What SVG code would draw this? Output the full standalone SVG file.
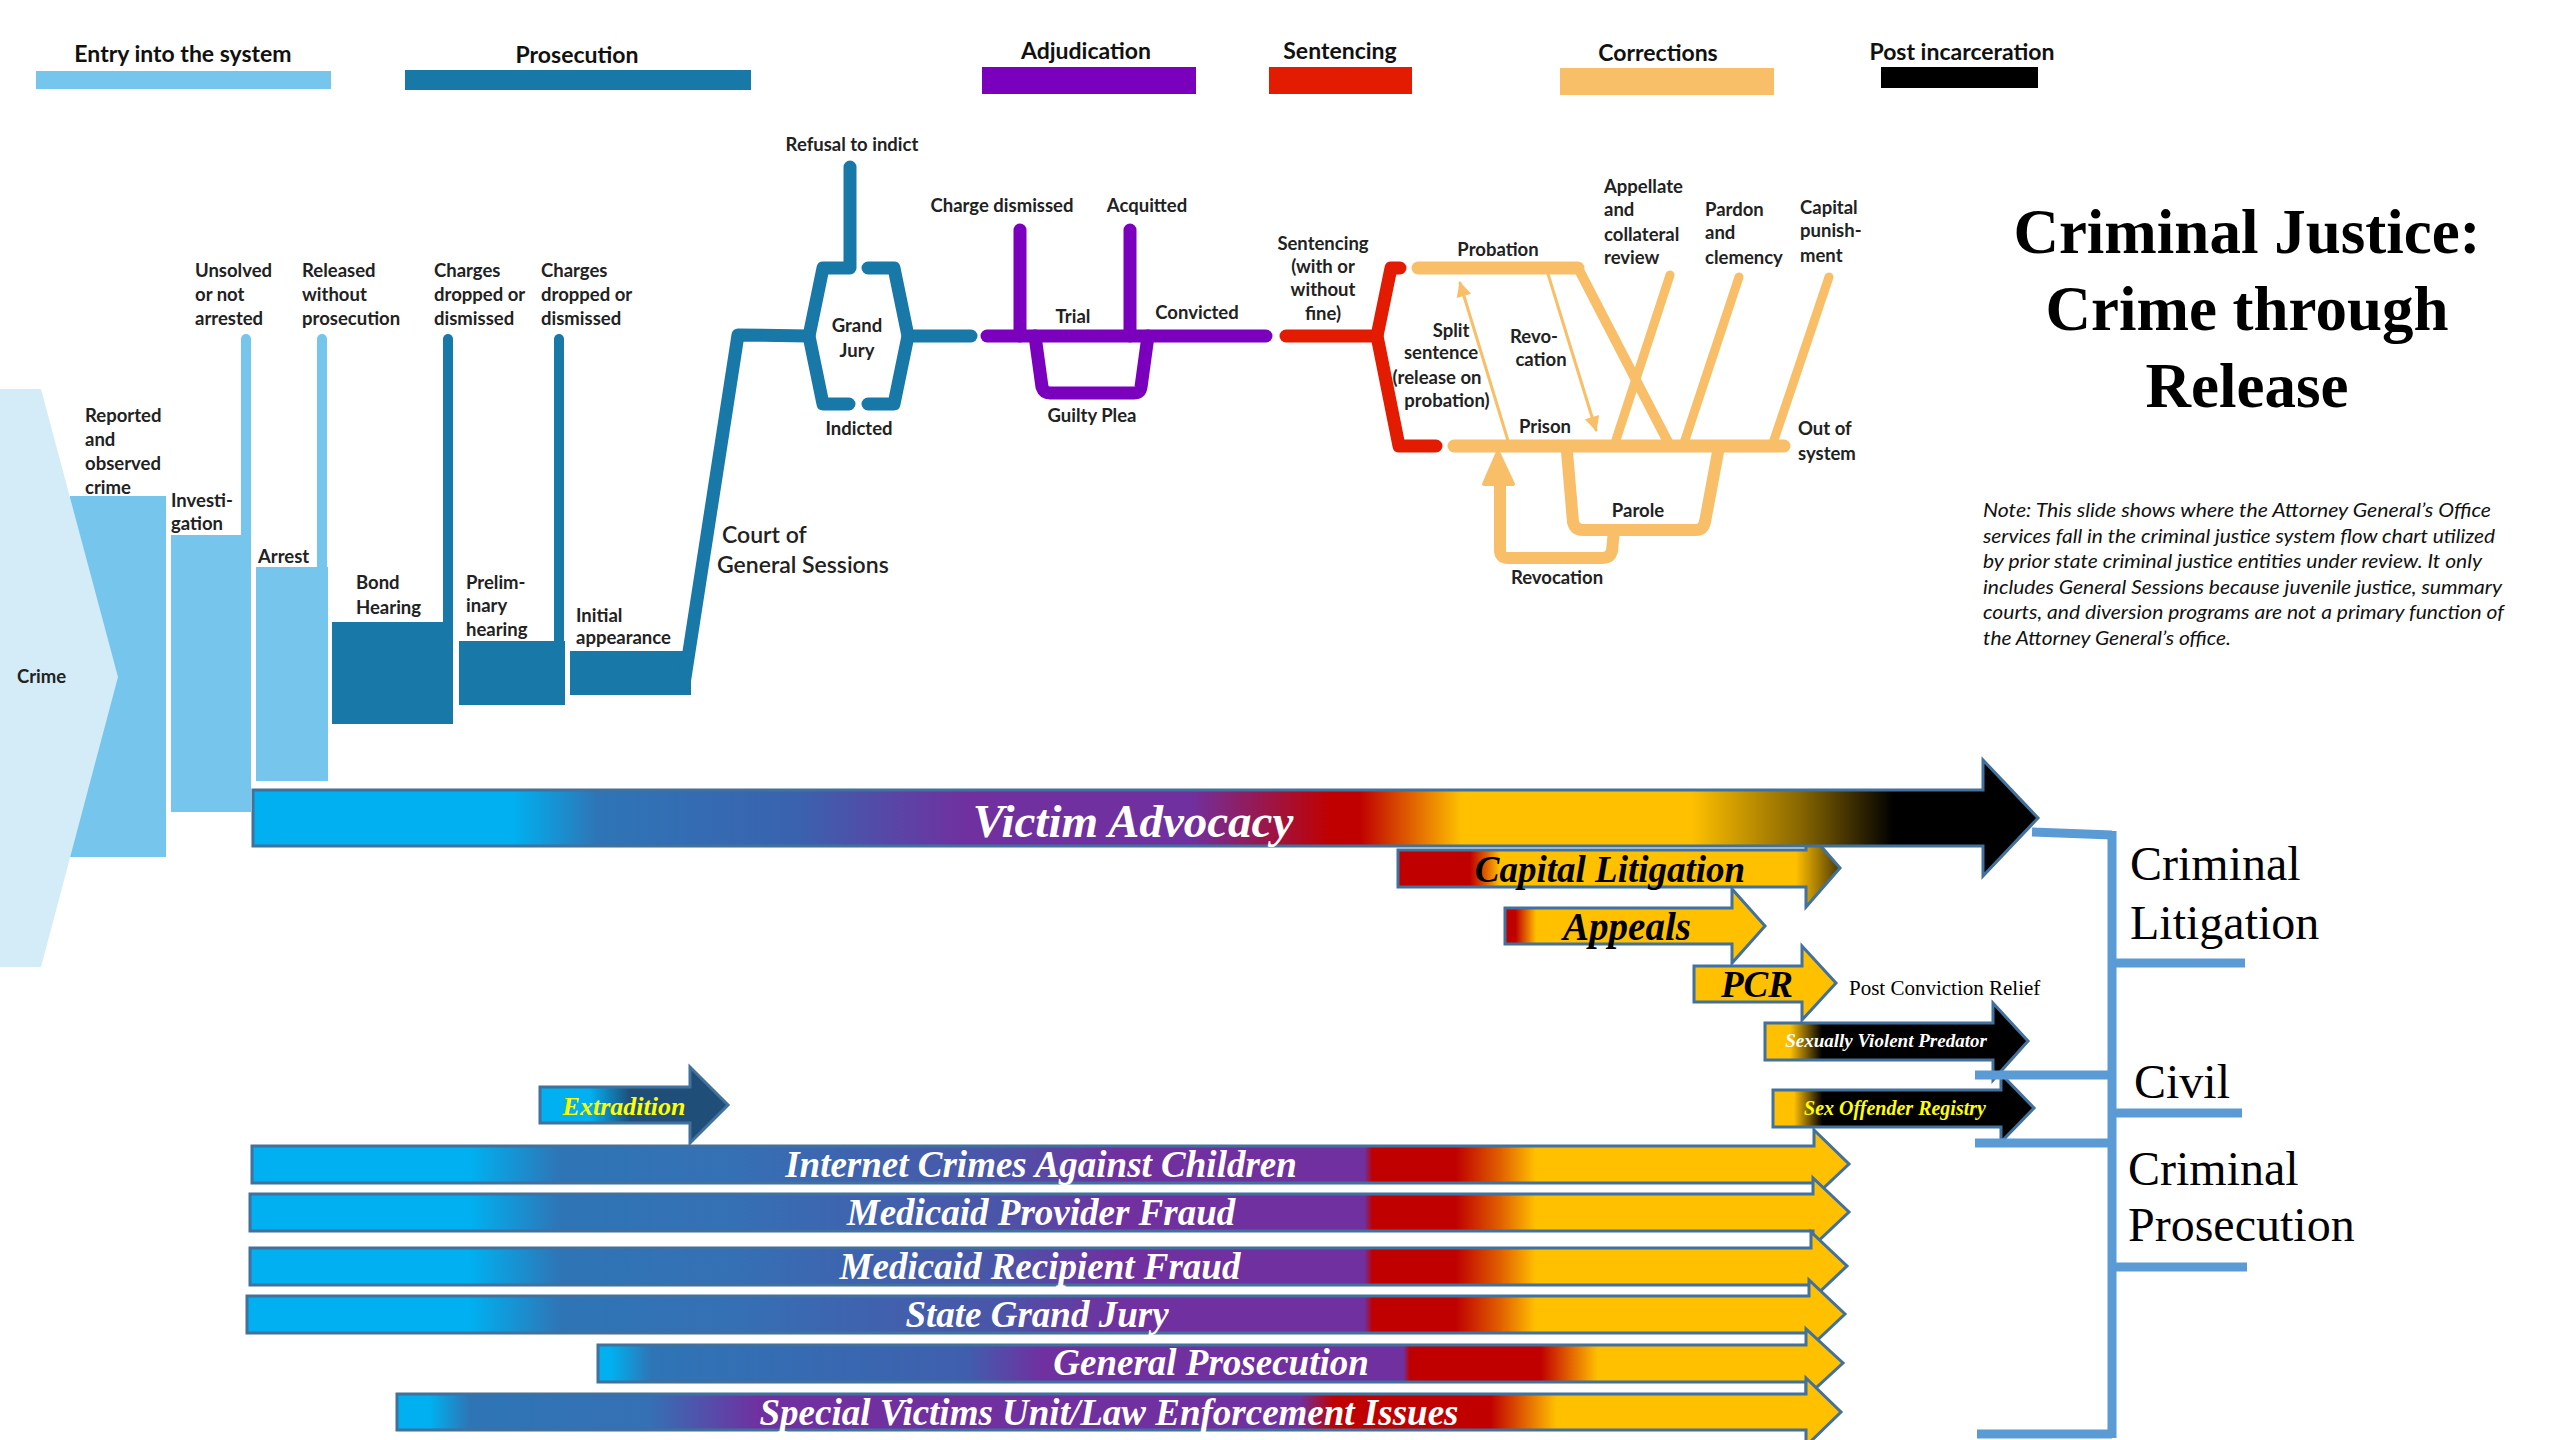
<svg xmlns="http://www.w3.org/2000/svg" width="2560" height="1440" viewBox="0 0 2560 1440">
<defs>
<style>
.lbl{font-family:Lato,"Open Sans","Liberation Sans",sans-serif;font-weight:700;font-size:18.5px;fill:#222}
.c{text-anchor:middle}
.leg{font-family:Lato,"Liberation Sans",sans-serif;font-weight:700;font-size:23px;fill:#111;text-anchor:middle}
.ln{fill:none;stroke-linecap:round;stroke-linejoin:round}
.lb{stroke:#75C5EC;stroke-width:10}
.db{stroke:#1878A8;stroke-width:13}
.dbt{stroke:#1878A8;stroke-width:10}
.pu{stroke:#7A00BE;stroke-width:13}
.rd{stroke:#E31B00;stroke-width:13}
.or{stroke:#F8BF68;stroke-width:13}
.ort{stroke:#F8BF68;stroke-width:9}
.thin{stroke:#F8BF68;stroke-width:3}
.bar{stroke:#41719C;stroke-width:3}
.bt{font-family:"Liberation Serif","Times New Roman",serif;font-weight:700;font-style:italic;text-anchor:middle}
.sv{font-family:"Liberation Serif","Times New Roman",serif;fill:#000}
.br{fill:none;stroke:#5B9BD5;stroke-width:9}
.note{font-family:Lato,"Open Sans","Liberation Sans",sans-serif;font-style:italic;font-size:19px;fill:#111}
</style>
<marker id="ah" viewBox="0 0 10 10" refX="9" refY="5" markerUnits="userSpaceOnUse" markerWidth="20" markerHeight="15" orient="auto">
<path d="M0,0 L10,5 L0,10 z" fill="#F8BF68"/>
</marker>
<linearGradient id="gVA" gradientUnits="userSpaceOnUse" x1="253" y1="0" x2="2038" y2="0">
<stop offset="0" stop-color="#00B0F0"/><stop offset="0.146" stop-color="#00B0F0"/><stop offset="0.193" stop-color="#2E75B6"/><stop offset="0.306" stop-color="#3A62AE"/><stop offset="0.399" stop-color="#7030A0"/><stop offset="0.525" stop-color="#7030A0"/><stop offset="0.604" stop-color="#C00000"/><stop offset="0.62" stop-color="#C00000"/><stop offset="0.677" stop-color="#FFC000"/><stop offset="0.806" stop-color="#FFC000"/><stop offset="0.866" stop-color="#8A6800"/><stop offset="0.919" stop-color="#000"/><stop offset="1" stop-color="#000"/>
</linearGradient>
<linearGradient id="gP" gradientUnits="userSpaceOnUse" x1="250" y1="0" x2="1849" y2="0">
<stop offset="0" stop-color="#00B0F0"/><stop offset="0.138" stop-color="#00B0F0"/><stop offset="0.194" stop-color="#2E75B6"/><stop offset="0.303" stop-color="#3570B4"/><stop offset="0.469" stop-color="#4A55A8"/><stop offset="0.543" stop-color="#7030A0"/><stop offset="0.697" stop-color="#7030A0"/><stop offset="0.702" stop-color="#C00000"/><stop offset="0.754" stop-color="#C00000"/><stop offset="0.782" stop-color="#E06000"/><stop offset="0.804" stop-color="#FFC000"/><stop offset="1" stop-color="#FFC000"/>
</linearGradient>
<linearGradient id="gGP" gradientUnits="userSpaceOnUse" x1="598" y1="0" x2="1843" y2="0">
<stop offset="0" stop-color="#00B0F0"/><stop offset="0.01" stop-color="#00B0F0"/><stop offset="0.043" stop-color="#2E75B6"/><stop offset="0.295" stop-color="#3F5FAD"/><stop offset="0.357" stop-color="#7030A0"/><stop offset="0.647" stop-color="#7030A0"/><stop offset="0.652" stop-color="#C00000"/><stop offset="0.757" stop-color="#C00000"/><stop offset="0.78" stop-color="#E06000"/><stop offset="0.803" stop-color="#FFC000"/><stop offset="1" stop-color="#FFC000"/>
</linearGradient>
<linearGradient id="gSVU" gradientUnits="userSpaceOnUse" x1="397" y1="0" x2="1841" y2="0">
<stop offset="0" stop-color="#00B0F0"/><stop offset="0.023" stop-color="#00B0F0"/><stop offset="0.05" stop-color="#2E75B6"/><stop offset="0.175" stop-color="#3570B4"/><stop offset="0.251" stop-color="#7030A0"/><stop offset="0.625" stop-color="#7030A0"/><stop offset="0.649" stop-color="#C00000"/><stop offset="0.757" stop-color="#C00000"/><stop offset="0.78" stop-color="#E06000"/><stop offset="0.803" stop-color="#FFC000"/><stop offset="1" stop-color="#FFC000"/>
</linearGradient>
<linearGradient id="gCap" gradientUnits="userSpaceOnUse" x1="1398" y1="0" x2="1840" y2="0">
<stop offset="0" stop-color="#C00000"/><stop offset="0.163" stop-color="#C00000"/><stop offset="0.2" stop-color="#E06000"/><stop offset="0.23" stop-color="#FFC000"/><stop offset="0.9" stop-color="#FFC000"/><stop offset="1" stop-color="#4A3800"/>
</linearGradient>
<linearGradient id="gApp" gradientUnits="userSpaceOnUse" x1="1505" y1="0" x2="1765" y2="0">
<stop offset="0" stop-color="#C00000"/><stop offset="0.04" stop-color="#C00000"/><stop offset="0.08" stop-color="#E06000"/><stop offset="0.12" stop-color="#FFC000"/><stop offset="1" stop-color="#FFC000"/>
</linearGradient>
<linearGradient id="gSVP" gradientUnits="userSpaceOnUse" x1="1765" y1="0" x2="2028" y2="0">
<stop offset="0" stop-color="#FFC000"/><stop offset="0.095" stop-color="#FFC000"/><stop offset="0.217" stop-color="#000"/><stop offset="1" stop-color="#000"/>
</linearGradient>
<linearGradient id="gSOR" gradientUnits="userSpaceOnUse" x1="1773" y1="0" x2="2034" y2="0">
<stop offset="0" stop-color="#FFC000"/><stop offset="0.08" stop-color="#FFC000"/><stop offset="0.19" stop-color="#000"/><stop offset="1" stop-color="#000"/>
</linearGradient>
<linearGradient id="gExt" gradientUnits="userSpaceOnUse" x1="540" y1="0" x2="728" y2="0">
<stop offset="0" stop-color="#00B0F0"/><stop offset="0.266" stop-color="#00B0F0"/><stop offset="0.48" stop-color="#1F4E79"/><stop offset="1" stop-color="#1F4E79"/>
</linearGradient>
</defs>
<rect width="2560" height="1440" fill="#fff"/>

<!-- Legend -->
<g id="legend">
<g id="legend-entry"><text class="leg" x="183" y="62">Entry into the system</text><rect x="36" y="71" width="295" height="18" fill="#75C5EC"/></g>
<g id="legend-prosecution"><text class="leg" x="577" y="63">Prosecution</text><rect x="405" y="70" width="346" height="20" fill="#1878A8"/></g>
<g id="legend-adjudication"><text class="leg" x="1086" y="59">Adjudication</text><rect x="982" y="67" width="214" height="27" fill="#7A00BE"/></g>
<g id="legend-sentencing"><text class="leg" x="1340" y="59">Sentencing</text><rect x="1269" y="67" width="143" height="27" fill="#E31B00"/></g>
<g id="legend-corrections"><text class="leg" x="1658" y="61">Corrections</text><rect x="1560" y="68" width="214" height="27" fill="#F8BF68"/></g>
<g id="legend-post"><text class="leg" x="1962" y="60">Post incarceration</text><rect x="1881" y="67" width="157" height="21" fill="#000"/></g>
</g>

<!-- Title -->
<g id="title" font-family="'Liberation Serif','Times New Roman',serif" font-weight="700" font-size="63" text-anchor="middle" fill="#000">
<text x="2247" y="253">Criminal Justice:</text>
<text x="2247" y="330">Crime through</text>
<text x="2247" y="407">Release</text>
</g>

<g id="note" class="note">
<text x="1983" y="517" textLength="508" lengthAdjust="spacingAndGlyphs">Note:  This slide shows where the Attorney General’s Office</text>
<text x="1983" y="543" textLength="512" lengthAdjust="spacingAndGlyphs">services fall in the criminal justice system flow chart utilized</text>
<text x="1983" y="568" textLength="499" lengthAdjust="spacingAndGlyphs">by prior state criminal justice entities under review. It only</text>
<text x="1983" y="594" textLength="519" lengthAdjust="spacingAndGlyphs">includes General Sessions because juvenile justice, summary</text>
<text x="1983" y="619" textLength="521" lengthAdjust="spacingAndGlyphs">courts, and diversion programs are not a primary function of</text>
<text x="1983" y="645" textLength="248" lengthAdjust="spacingAndGlyphs">the Attorney General’s office.</text>
</g>

<!-- Stage blocks -->
<g id="node-reported"><rect x="70" y="496" width="96" height="361" fill="#75C5EC"/></g>
<g id="node-crime"><polygon points="0,389 41,389 118,677 41,967 0,967" fill="#D3ECF8"/><text class="lbl" x="17" y="683">Crime</text></g>
<g id="node-reported-label"><text class="lbl"><tspan x="85" y="422">Reported</tspan><tspan x="85" y="446">and</tspan><tspan x="85" y="470">observed</tspan><tspan x="85" y="494">crime</tspan></text></g>
<g id="node-investigation"><rect x="171" y="535" width="80" height="277" fill="#75C5EC"/><text class="lbl"><tspan x="171" y="507">Investi-</tspan><tspan x="171" y="530">gation</tspan></text></g>
<g id="node-arrest"><rect x="256" y="567" width="72" height="214" fill="#75C5EC"/><text class="lbl" x="258" y="563">Arrest</text></g>
<g id="node-bond"><rect x="332" y="622" width="121" height="102" fill="#1878A8"/><text class="lbl"><tspan x="356" y="589">Bond</tspan><tspan x="356" y="614">Hearing</tspan></text></g>
<g id="node-prelim"><rect x="459" y="641" width="106" height="64" fill="#1878A8"/><text class="lbl"><tspan x="466" y="589">Prelim-</tspan><tspan x="466" y="612">inary</tspan><tspan x="466" y="636">hearing</tspan></text></g>
<g id="node-initial"><rect x="570" y="651" width="121" height="44" fill="#1878A8"/><text class="lbl"><tspan x="576" y="622">Initial</tspan><tspan x="576" y="644">appearance</tspan></text></g>

<!-- Connectors (flow paths) -->
<g id="connectors" class="ln">
<path class="lb" d="M246 339 L246 540"/>
<path class="lb" d="M322 339 L322 570"/>
<path class="dbt" d="M448 339 L448 625"/>
<path class="dbt" d="M559 339 L559 645"/>
<path class="db" d="M684 684 L738 335 L809 336"/>
<path class="db" d="M849 404 L823 404 L809 336 L823 268 L850 268 L850 167"/>
<path class="db" d="M868 268 L894 268 L908 336 L894 404 L868 404"/>
<path class="db" d="M908 336 L971 336"/>
<path class="pu" d="M987 336 L1266 336"/>
<path class="pu" d="M1020 230 L1020 336"/>
<path class="pu" d="M1130 230 L1130 336"/>
<path class="pu" d="M1035 336 L1042 387 Q1044 393 1050 393 L1134 393 Q1140 393 1141 387 L1148 336"/>
<path class="rd" d="M1286 336 L1377 336"/>
<path class="rd" d="M1436 446 L1399 446 L1377 336 L1391 268 L1400 268"/>
<path class="or" d="M1418 268 L1578 268"/>
<path class="or" d="M1454 446 L1784 446"/>
<path class="ort" style="stroke-width:10" d="M1578 268 L1669 444"/>
<path class="ort" d="M1670 275 L1614 446"/>
<path class="ort" d="M1739 277 L1683 446"/>
<path class="ort" d="M1829 277 L1772 446"/>
<path class="thin" d="M1509 444 L1460 283" marker-end="url(#ah)"/>
<path class="thin" d="M1548 274 L1596 430" marker-end="url(#ah)"/>
<path class="or" style="stroke-width:12" d="M1567 452 L1573 522 Q1575 530 1583 530 L1696 530 Q1703 530 1705 522 L1718 452"/>
<path class="or" style="stroke-width:12" d="M1614 530 L1612 551 Q1610 558 1603 558 L1508 558 Q1500 558 1500 550 L1500 478"/>
<polygon points="1484,484 1498,452 1513,484" fill="#F8BF68" stroke="#F8BF68" stroke-width="4" stroke-linejoin="round"/>
</g>

<!-- Flow labels -->
<g id="labels-entry" class="lbl">
<text><tspan x="195" y="277">Unsolved</tspan><tspan x="195" y="301">or not</tspan><tspan x="195" y="325">arrested</tspan></text>
<text><tspan x="302" y="277">Released</tspan><tspan x="302" y="301">without</tspan><tspan x="302" y="325">prosecution</tspan></text>
<text><tspan x="434" y="277">Charges</tspan><tspan x="434" y="301">dropped or</tspan><tspan x="434" y="325">dismissed</tspan></text>
<text><tspan x="541" y="277">Charges</tspan><tspan x="541" y="301">dropped or</tspan><tspan x="541" y="325">dismissed</tspan></text>
</g>
<g id="node-court"><text class="lbl" style="font-size:23px;font-weight:600"><tspan x="722" y="543">Court of</tspan><tspan x="717" y="573">General Sessions</tspan></text></g>
<g id="node-grandjury" class="lbl c">
<text x="852" y="151">Refusal to indict</text>
<text x="857" y="332">Grand</text>
<text x="857" y="357">Jury</text>
<text x="859" y="435">Indicted</text>
</g>
<g id="node-adjudication" class="lbl c">
<text x="1002" y="212">Charge dismissed</text>
<text x="1147" y="212">Acquitted</text>
<text x="1073" y="323">Trial</text>
<text x="1197" y="319">Convicted</text>
<text x="1092" y="422">Guilty Plea</text>
</g>
<g id="node-sentencing" class="lbl c">
<text><tspan x="1323" y="250">Sentencing</tspan><tspan x="1323" y="273">(with or</tspan><tspan x="1323" y="296">without</tspan><tspan x="1323" y="320">fine)</tspan></text>
</g>
<g id="node-corrections" class="lbl">
<text class="c" x="1498" y="256">Probation</text>
<text class="c"><tspan x="1451" y="337">Split</tspan><tspan x="1441" y="359">sentence</tspan><tspan x="1437" y="384">(release on</tspan><tspan x="1447" y="407">probation)</tspan></text>
<text class="c"><tspan x="1534" y="343">Revo-</tspan><tspan x="1541" y="366">cation</tspan></text>
<text class="c" x="1545" y="433">Prison</text>
<text><tspan x="1604" y="193">Appellate</tspan><tspan x="1604" y="216">and</tspan><tspan x="1604" y="241">collateral</tspan><tspan x="1604" y="264">review</tspan></text>
<text><tspan x="1705" y="216">Pardon</tspan><tspan x="1705" y="239">and</tspan><tspan x="1705" y="264">clemency</tspan></text>
<text><tspan x="1800" y="214">Capital</tspan><tspan x="1800" y="237">punish-</tspan><tspan x="1800" y="262">ment</tspan></text>
<text><tspan x="1798" y="435">Out of</tspan><tspan x="1798" y="460">system</tspan></text>
<text class="c" x="1638" y="517">Parole</text>
<text class="c" x="1557" y="584">Revocation</text>
</g>

<!-- Service bars -->
<g id="bar-capital"><polygon class="bar" fill="url(#gCap)" points="1398,850 1806,850 1806,829 1840,868 1806,907 1806,887 1398,887"/><text class="bt" x="1610" y="882" font-size="37" fill="#000">Capital Litigation</text></g>
<g id="bar-victim"><polygon class="bar" fill="url(#gVA)" points="253,790 1983,790 1983,760 2038,818 1983,876 1983,846 253,846"/><text class="bt" x="1133" y="837" font-size="47" fill="#fff">Victim Advocacy</text></g>
<g id="bar-appeals"><polygon class="bar" fill="url(#gApp)" points="1505,908 1732,908 1732,889 1765,926 1732,963 1732,944 1505,944"/><text class="bt" x="1627" y="940" font-size="39" fill="#000">Appeals</text></g>
<g id="bar-pcr"><polygon class="bar" fill="#FFC000" points="1694,966 1802,966 1802,946 1836,983 1802,1020 1802,1002 1694,1002"/><text class="bt" x="1757" y="997" font-size="37" fill="#000">PCR</text><text class="sv" x="1849" y="995" font-size="21">Post Conviction Relief</text></g>
<g id="bar-svp"><polygon class="bar" fill="url(#gSVP)" points="1765,1023 1993,1023 1993,1003 2028,1041 1993,1080 1993,1060 1765,1060"/><text class="bt" x="1886" y="1047" font-size="19" fill="#fff">Sexually Violent Predator</text></g>
<g id="bar-sor"><polygon class="bar" fill="url(#gSOR)" points="1773,1090 2001,1090 2001,1074 2034,1108 2001,1142 2001,1127 1773,1127"/><text class="bt" x="1895" y="1115" font-size="20" fill="#FFFF00">Sex Offender Registry</text></g>
<g id="bar-extradition"><polygon class="bar" fill="url(#gExt)" points="540,1087 690,1087 690,1067 728,1105 690,1143 690,1123 540,1123"/><text class="bt" x="624" y="1115" font-size="26" fill="#FFFF00">Extradition</text></g>
<g id="bar-icac"><polygon class="bar" fill="url(#gP)" points="252,1146 1814,1146 1814,1130 1849,1164 1814,1197 1814,1183 252,1183"/><text class="bt" x="1041" y="1177" font-size="37" fill="#fff">Internet Crimes Against Children</text></g>
<g id="bar-mpf"><polygon class="bar" fill="url(#gP)" points="250,1194 1813,1194 1813,1178 1849,1212 1813,1246 1813,1231 250,1231"/><text class="bt" x="1041" y="1225" font-size="37" fill="#fff">Medicaid Provider Fraud</text></g>
<g id="bar-mrf"><polygon class="bar" fill="url(#gP)" points="250,1248 1811,1248 1811,1232 1847,1266 1811,1300 1811,1285 250,1285"/><text class="bt" x="1040" y="1279" font-size="37" fill="#fff">Medicaid Recipient Fraud</text></g>
<g id="bar-sgj"><polygon class="bar" fill="url(#gP)" points="247,1296 1809,1296 1809,1280 1845,1314 1809,1348 1809,1333 247,1333"/><text class="bt" x="1037" y="1327" font-size="37" fill="#fff">State Grand Jury</text></g>
<g id="bar-gp"><polygon class="bar" fill="url(#gGP)" points="598,1345 1806,1345 1806,1329 1843,1363 1806,1397 1806,1382 598,1382"/><text class="bt" x="1211" y="1375" font-size="37" fill="#fff">General Prosecution</text></g>
<g id="bar-svu"><polygon class="bar" fill="url(#gSVU)" points="397,1394 1806,1394 1806,1378 1841,1412 1806,1446 1806,1430 397,1430"/><text class="bt" x="1109" y="1425" font-size="37" fill="#fff">Special Victims Unit/Law Enforcement Issues</text></g>

<!-- Brackets -->
<g id="brackets">
<path class="br" d="M2032 832 L2112 835"/>
<path class="br" d="M2112 831 L2112 1438"/>
<path class="br" d="M2112 963 L2245 963"/>
<path class="br" d="M1975 1075 L2112 1075"/>
<path class="br" d="M2112 1113 L2242 1113"/>
<path class="br" d="M1975 1143 L2112 1143"/>
<path class="br" d="M2112 1267 L2247 1267"/>
<path class="br" d="M1977 1434 L2112 1434"/>
</g>
<g id="group-labels" class="sv" font-size="48">
<text x="2130" y="880">Criminal</text>
<text x="2130" y="939">Litigation</text>
<text x="2134" y="1098">Civil</text>
<text x="2128" y="1185">Criminal</text>
<text x="2128" y="1241">Prosecution</text>
</g>
</svg>
